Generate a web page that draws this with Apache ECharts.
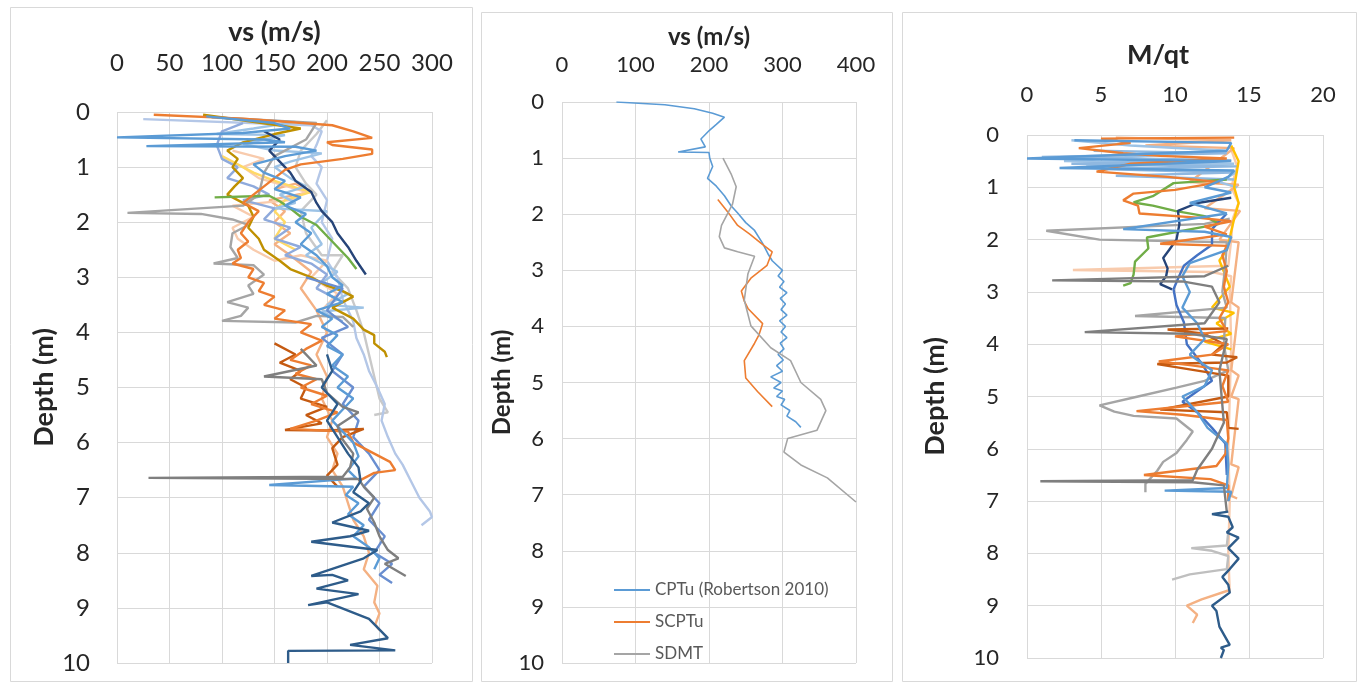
<!DOCTYPE html>
<html>
<head>
<meta charset="utf-8">
<title>vs and M/qt depth profiles</title>
<script src="https://cdn.jsdelivr.net/npm/echarts@6.0.0/dist/echarts.min.js"></script>
<style>
  html, body { margin: 0; padding: 0; background: #fff; }
  #chart { width: 1361px; height: 683px; }
</style>
</head>
<body>
<div id="chart"></div>
<script>
// axis ranges (min, max, step)
const depthRange = [0, 10, 1];
const vsRangeLeft = [0, 300, 50];
const vsRangeMid = [0, 400, 100];
const mqtRange = [0, 20, 5];

// ---- left panel: vs profiles, [vs (m/s), depth (m)] ----
const vsOrange = [[35,0.05],[120,0.12],[205,0.24],[225,0.35],[243,0.47],[200,0.55],[205,0.6],[243,0.68],[243,0.76],[215,0.85],[175,0.95],[160,1.05],[150,1.2],[140,1.35],[130,1.5],[120,1.65],[135,1.8],[125,2.0],[118,2.2],[125,2.35],[115,2.5],[118,2.65],[110,2.75],[130,2.85],[125,3.0],[140,3.1],[135,3.25],[150,3.35],[140,3.5],[160,3.6],[150,3.75],[185,3.85],[175,4.0],[195,4.15],[180,4.3],[165,4.5],[185,4.6],[170,4.75],[190,4.85],[175,5.0],[200,5.15],[185,5.3],[210,5.45],[190,5.6],[165,5.75],[220,5.8],[225,6.0],[245,6.2],[260,6.35],[265,6.5],[245,6.55],[230,6.7]];
const vsBlue = [[85,0.08],[150,0.2],[165,0.3],[120,0.38],[0,0.46],[140,0.5],[160,0.55],[28,0.62],[170,0.63],[190,0.7],[160,0.8],[130,0.95],[140,1.1],[160,1.25],[150,1.4],[175,1.55],[160,1.7],[180,1.85],[170,2.0],[185,2.2],[175,2.4],[190,2.6],[200,2.8],[205,3.0],[215,3.15],[200,3.3],[215,3.45],[190,3.6],[205,3.75],[195,3.9],[210,4.05],[200,4.25],[215,4.4],[205,4.6],[220,4.8],[210,5.0],[225,5.2],[215,5.4],[205,5.6],[215,5.8],[225,6.0],[230,6.25],[220,6.5],[228,6.65],[145,6.77],[225,6.8],[218,6.95],[230,7.1],[220,7.3],[235,7.5],[225,7.7],[240,7.9],[250,8.1],[245,8.3]];
const vsPaleBlue = [[25,0.13],[185,0.24],[195,0.35],[190,0.6],[185,0.8],[195,1.0],[190,1.3],[200,1.6],[195,2.0],[205,2.3],[200,2.7],[210,3.0],[215,3.4],[225,3.8],[228,4.1],[235,4.4],[240,4.7],[248,5.0],[255,5.3],[252,5.6],[258,5.9],[265,6.2],[272,6.4],[280,6.7],[288,7.0],[298,7.25],[300,7.35],[290,7.5]];
const vsGold = [[82,0.05],[175,0.3],[150,0.4],[120,0.55],[105,0.7],[115,0.85],[110,1.0],[120,1.2],[112,1.35],[105,1.5],[125,1.7],[130,1.9],[125,2.1],[135,2.3],[140,2.5],[155,2.7],[165,2.85],[185,3.0],[200,3.15],[215,3.25],[225,3.35],[215,3.45],[205,3.55],[225,3.75],[235,3.95],[245,4.05],[245,4.2],[255,4.35],[257,4.45]];
const vsGreen = [[93,1.55],[145,1.52],[155,1.62],[165,1.75],[175,1.9],[190,2.05],[200,2.25],[210,2.45],[220,2.65],[228,2.85]];
const vsNavy = [[140,0.35],[155,0.5],[145,0.7],[155,0.9],[165,1.1],[170,1.25],[185,1.45],[190,1.65],[195,1.8],[205,2.0],[210,2.2],[220,2.45],[228,2.7],[237,2.95]];
const vsGray = [[95,0.1],[190,0.2],[180,0.5],[150,0.8],[140,1.1],[135,1.5],[120,1.7],[10,1.83],[80,1.85],[110,1.95],[125,2.05],[110,2.2],[108,2.45],[115,2.65],[92,2.75],[130,2.78],[140,2.95],[125,3.15],[130,3.3],[105,3.45],[125,3.55],[118,3.7],[100,3.79],[170,3.82],[190,3.7],[215,3.72],[225,3.9]];
const vsDarkGray = [[175,4.3],[190,4.6],[140,4.8],[195,4.85],[200,5.1],[215,5.35],[230,5.45],[210,5.7],[215,5.95],[225,6.2],[222,6.45],[215,6.62],[30,6.64],[230,6.66],[235,6.8],[245,7.0],[238,7.2],[245,7.45],[250,7.7],[258,7.95],[268,8.1],[255,8.2],[275,8.42]];
const vsPeach = [[150,1.4],[170,1.3],[185,1.45],[145,1.6],[160,1.8],[150,2.0],[165,2.2],[150,2.4],[165,2.6],[185,2.9],[175,3.2],[190,3.6],[200,4.0],[190,4.4],[200,4.8],[195,5.2],[205,5.6],[200,5.9],[210,6.2],[205,6.5],[215,6.8],[220,7.1],[225,7.4],[235,7.7],[240,8.0],[235,8.3],[248,8.6],[245,8.9],[250,9.1],[246,9.3],[250,9.4]];
const vsDeepBlue = [[200,4.4],[205,4.7],[195,5.0],[210,5.3],[200,5.6],[210,5.9],[220,6.2],[230,6.45],[232,6.7],[225,6.9],[240,7.1],[232,7.25],[205,7.45],[240,7.6],[222,7.7],[185,7.8],[248,7.95],[235,8.1],[185,8.42],[205,8.4],[220,8.5],[190,8.65],[230,8.75],[182,8.95],[200,8.9],[240,9.2],[258,9.55],[222,9.67],[265,9.77],[163,9.78],[163,10]];
const vsMidBlue = [[180,3.0],[215,3.2],[200,3.6],[220,3.9],[195,4.1],[215,4.4],[205,4.7],[225,5.0],[215,5.3],[230,5.6],[225,5.9],[240,6.2],[250,6.5],[235,6.8],[250,7.1],[240,7.4],[255,7.7],[245,8.0],[262,8.2],[250,8.4],[262,8.55]];
const vsLightOrange = [[110,0.7],[140,0.85],[120,1.0],[135,1.2],[180,1.45],[165,1.6],[110,1.7],[130,1.9],[110,2.1],[115,2.3],[130,2.5],[150,2.7],[175,2.6],[200,2.7],[185,3.0],[210,3.3],[195,3.6]];
const vsLightGray = [[200,0.15],[190,0.4],[175,0.7],[170,1.0],[180,1.3],[190,1.5],[175,1.8],[180,2.2],[195,2.6],[215,2.6],[205,2.9],[220,3.2],[228,3.6],[235,4.0],[240,4.4],[245,4.8],[250,5.2],[258,5.45],[245,5.5]];
const vsBrown = [[150,4.2],[170,4.4],[155,4.55],[175,4.7],[165,4.85],[180,5.0],[175,5.2],[200,5.35],[180,5.5],[195,5.65],[160,5.77],[200,5.78],[235,5.75],[215,5.9],[205,6.1],[210,6.4],[200,6.6],[210,6.8]];
const vsYellow = [[100,0.8],[115,0.95],[130,1.1],[150,1.25],[175,1.4],[185,1.45],[160,1.6],[150,1.8],[160,2.0],[150,2.3],[170,2.5]];
const vsSky = [[90,0.1],[170,0.18],[130,0.3],[95,0.4],[160,0.42],[120,0.58],[150,0.7],[195,0.75],[165,0.9],[150,1.0],[165,1.2],[180,1.35],[155,1.5],[170,1.65],[150,1.75],[200,1.8],[185,2.1],[195,2.4],[180,2.6],[210,2.9],[195,3.1],[220,3.3],[200,3.5],[235,3.55],[195,3.62],[215,3.8]];
const vsSteel = [[120,0.2],[100,0.35],[95,0.6],[100,0.85],[115,1.0],[105,1.2],[130,1.35],[145,1.5],[120,1.6],[150,1.75],[140,1.95],[165,2.1],[150,2.3],[175,2.45],[160,2.6],[185,2.75],[200,2.95],[190,3.2],[210,3.4]];

// ---- middle panel: method comparison ----
const cptuName = 'CPTu (Robertson 2010)';
const cptuVs = [[74,0],[140,0.05],[180,0.12],[205,0.2],[221,0.27],[210,0.4],[201,0.5],[189,0.66],[195,0.8],[158,0.89],[200,0.9],[201,1.0],[205,1.15],[198,1.36],[210,1.5],[221,1.67],[230,1.85],[239,1.98],[250,2.15],[262,2.29],[273,2.52],[280,2.7],[286,2.83],[300,3.0],[294,3.1],[302,3.2],[296,3.3],[306,3.4],[297,3.5],[304,3.6],[298,3.7],[306,3.8],[296,3.9],[304,4.0],[298,4.1],[306,4.2],[297,4.3],[302,4.4],[294,4.5],[301,4.6],[292,4.7],[300,4.8],[284,4.9],[298,5.0],[288,5.1],[300,5.15],[292,5.25],[303,5.3],[298,5.4],[310,5.5],[306,5.6],[318,5.7],[325,5.8]];
const scptuVs = [[212,1.74],[225,1.95],[239,2.2],[255,2.35],[271,2.52],[286,2.67],[279,2.91],[257,3.14],[244,3.37],[248,3.55],[253,3.68],[273,3.95],[268,4.15],[262,4.3],[248,4.61],[250,4.92],[266,5.16],[286,5.43]];
const sdmtVs = [[219,1.0],[230,1.28],[237,1.51],[232,1.82],[217,2.2],[214,2.4],[221,2.6],[239,2.67],[262,2.75],[253,3.06],[248,3.53],[257,3.99],[284,4.38],[311,4.61],[325,5.0],[352,5.3],[359,5.5],[347,5.85],[307,6.0],[302,6.24],[325,6.47],[361,6.7],[400,7.13]];

// ---- right panel: M/qt profiles, [M/qt, depth (m)] ----
const mqtOrange = [[14,0.05],[5,0.07],[7,0.15],[3.5,0.25],[6.5,0.35],[9,0.4],[13.5,0.45],[7,0.55],[4.7,0.7],[9.5,0.8],[13,0.9],[10,1.05],[7.2,1.12],[6.5,1.25],[7.5,1.35],[7.6,1.5],[11.5,1.58],[13.8,1.65],[12,1.75],[13.5,1.9],[9,2.08],[13.5,2.12],[13.2,2.3],[13.5,2.6],[13.3,2.9],[13.6,3.2],[13,3.5],[13.5,3.75],[10,3.85],[13.6,4.0],[12.5,4.2],[8.9,4.33],[11,4.4],[13.6,4.5],[13.2,4.8],[13.6,5.1],[9.5,5.22],[7.4,5.28],[10.5,5.35],[13.5,5.45],[13.6,5.8],[13.4,6.1],[12.8,6.33],[7.9,6.5],[12.4,6.58],[13.6,6.7],[13.6,7]];
const mqtBlue = [[3.2,0.1],[13.8,0.15],[13.5,0.3],[0,0.45],[13.8,0.5],[2.2,0.63],[14,0.68],[13.6,0.8],[12,1.0],[13.8,1.1],[11,1.3],[13.5,1.5],[6.5,1.8],[12,1.85],[13.8,1.95],[13.5,2.2],[11,2.45],[10.5,2.7],[11,3.0],[10.5,3.3],[11.5,3.6],[12,3.9],[11,4.2],[12.5,4.5],[12,4.8],[10.5,5.0],[11.5,5.3],[12.2,5.6],[13.5,5.9],[13.6,6.3],[13.5,6.75],[9.3,6.8],[13.8,6.82],[13.6,7.0]];
const mqtGray = [[13.7,1.6],[12,1.7],[1.3,1.83],[4.9,2.0],[13.5,2.05],[13.4,2.5],[13.2,3.0],[13.5,3.3],[7.3,3.46],[13.4,3.5],[13.3,4.0],[13.6,4.5],[12,4.7],[10.1,4.83],[7.5,5.0],[4.9,5.17],[5.9,5.29],[7.2,5.37],[10.1,5.42],[11.2,5.67],[10.8,5.83],[10.1,6.08],[9.2,6.25],[8.8,6.42],[8.0,6.67],[8.0,6.83]];
const mqtDarkGray = [[13.6,2.5],[12,2.7],[1.7,2.78],[10.5,2.8],[12.5,2.9],[13,3.2],[12,3.6],[3.9,3.77],[11,3.8],[13.5,3.9],[13,4.5],[13.3,5.5],[12.5,6.0],[11.5,6.4],[11.2,6.6],[0.9,6.62],[11.2,6.64],[13.3,6.7],[13.5,7.2]];
const mqtLightGray = [[13.6,7.6],[13.5,7.85],[11.1,7.9],[12.5,7.95],[13.6,8.05],[13.5,8.3],[11,8.4],[9.8,8.5]];
const mqtGreen = [[13.5,0.85],[9.9,0.92],[8.5,1.17],[7.2,1.29],[8.5,1.35],[10,1.45],[12,1.55],[13,1.7],[8.1,1.96],[8.2,2.17],[7.3,2.42],[7.2,2.67],[7.0,2.83],[6.5,2.88]];
const mqtNavy = [[13.8,1.2],[11.5,1.3],[10.2,1.45],[10.3,1.7],[10.1,2.0],[9.6,2.2],[9.2,2.35],[9.5,2.55],[9.4,2.7],[9.0,2.85],[9.8,2.95]];
const mqtMidBlue = [[13.5,1.5],[12.5,1.8],[12.5,2.1],[11.5,2.3],[10.6,2.5],[10.2,2.75],[9.9,2.95],[10.1,3.25],[10.6,3.58],[10.8,4.0],[11.7,4.33],[12.1,4.5],[12.5,4.7],[11.5,4.9],[10.5,5.1],[11.5,5.3],[12.5,5.6],[13.4,5.9],[13.5,6.5]];
const mqtPeach = [[13.7,0.2],[14.2,0.6],[13.8,1.0],[14.3,1.3],[13.9,1.6],[13.8,2.0],[13.6,2.5],[3.1,2.58],[12.5,2.62],[13.8,2.7],[13.7,3.0],[13.8,4.0],[13.7,5.0],[13.6,6.0],[13.7,7.0],[13.6,8.0],[13.7,8.75]];
const mqtGold = [[13.8,0.2],[14.3,0.5],[14.0,1.0],[14.3,1.3],[14.0,1.6],[13.5,2.2],[13.0,2.4],[13.7,2.9],[12.5,3.3],[14,3.4],[12.8,3.6],[13.8,3.8],[12,3.95],[13.8,4.1]];
const mqtDeepBlue = [[13.6,7.2],[12.5,7.25],[13.6,7.3],[13.9,7.5],[13.5,7.6],[14.3,7.7],[13.6,7.9],[14.3,8.1],[13.7,8.3],[13.2,8.45],[13.6,8.6],[13.7,8.75],[12.5,9.0],[12.8,9.1],[13.0,9.4],[13.4,9.6],[13.7,9.75],[13.1,9.8],[13.3,9.85],[13.1,10]];
const mqtLightOrange = [[13.7,8.7],[11.8,8.88],[10.8,9.0],[11.5,9.17],[11.2,9.33]];
const mqtBrown = [[13.6,3.7],[9.5,3.72],[12,3.8],[13.3,4.0],[12.5,4.2],[14.2,4.25],[13.5,4.35],[8.8,4.38],[13.6,4.6],[13.6,5.0],[9,5.25],[13.5,5.3],[13.6,5.6],[14.3,5.62]];
const mqtPaleBlue = [[3,0.1],[7,0.2],[13.5,0.3],[2.5,0.5],[14,0.55],[4,0.6],[14.2,0.7],[13,0.9],[14.2,1.0]];
const mqtSky = [[4.5,0.3],[13.5,0.35],[1,0.42],[13.8,0.48],[3,0.55],[14.2,0.6],[5,0.65],[13.8,0.72],[6,0.78],[14,0.85]];
const mqtTan = [[6,0.05],[13.8,0.1],[8,0.2],[14,0.25],[11,0.9],[14.3,0.95],[12,1.4],[14.4,1.45],[13,2.0],[14.3,2.05],[13.8,3.2],[14.3,3.3],[13.8,4.5],[14.3,4.6],[13.8,5.0],[14.3,5.05],[13.8,6.3],[14.3,6.35],[13.8,6.9],[14.2,6.95]];

const leftSeries = [
  ['vsLightGray', vsLightGray, '#C9C9C9'],
  ['vsPaleBlue', vsPaleBlue, '#B4C7E7'],
  ['vsPeach', vsPeach, '#F4B183'],
  ['vsLightOrange', vsLightOrange, '#F8CBAD'],
  ['vsYellow', vsYellow, '#FFD966'],
  ['vsSky', vsSky, '#9DC3E6'],
  ['vsSteel', vsSteel, '#8FAADC'],
  ['vsGray', vsGray, '#A5A5A5'],
  ['vsGold', vsGold, '#BF9000'],
  ['vsGreen', vsGreen, '#70AD47'],
  ['vsNavy', vsNavy, '#264478'],
  ['vsMidBlue', vsMidBlue, '#698ED0'],
  ['vsBrown', vsBrown, '#C55A11'],
  ['vsOrange', vsOrange, '#ED7D31'],
  ['vsBlue', vsBlue, '#5B9BD5'],
  ['vsDarkGray', vsDarkGray, '#7F7F7F'],
  ['vsDeepBlue', vsDeepBlue, '#2E5C8A'],
];

const midSeries = [
  [cptuName, cptuVs, '#5B9BD5'],
  ['SCPTu', scptuVs, '#ED7D31'],
  ['SDMT', sdmtVs, '#A5A5A5'],
];

const rightSeries = [
  ['mqtPeach', mqtPeach, '#F8CBAD'],
  ['mqtTan', mqtTan, '#F4B183'],
  ['mqtPaleBlue', mqtPaleBlue, '#9DC3E6'],
  ['mqtSky', mqtSky, '#8FB8E0'],
  ['mqtGold', mqtGold, '#FFC000'],
  ['mqtLightGray', mqtLightGray, '#BFBFBF'],
  ['mqtGray', mqtGray, '#A5A5A5'],
  ['mqtGreen', mqtGreen, '#70AD47'],
  ['mqtMidBlue', mqtMidBlue, '#4472C4'],
  ['mqtNavy', mqtNavy, '#264478'],
  ['mqtBrown', mqtBrown, '#C55A11'],
  ['mqtOrange', mqtOrange, '#ED7D31'],
  ['mqtBlue', mqtBlue, '#5B9BD5'],
  ['mqtDarkGray', mqtDarkGray, '#7F7F7F'],
  ['mqtLightOrange', mqtLightOrange, '#F4B183'],
  ['mqtDeepBlue', mqtDeepBlue, '#2E5C8A'],
];

const font = 'Lato, "Open Sans", sans-serif';
const gridColor = '#D9D9D9';
const textColor = '#262626';

function xAxisFor(gridIndex, range, name, opts) {
  return {
    gridIndex,
    type: 'value',
    position: 'top',
    min: range[0],
    max: range[1],
    interval: range[2],
    name,
    nameLocation: 'middle',
    nameGap: opts.nameGap,
    nameTextStyle: {
      fontFamily: font, fontWeight: 'bold', fontSize: opts.nameSize, color: textColor,
      padding: opts.namePadding || 0,
    },
    axisLine: { show: false },
    axisTick: { show: false },
    axisLabel: { fontFamily: font, fontSize: opts.labelSize, color: textColor, margin: opts.labelMargin },
    splitLine: { show: true, lineStyle: { color: gridColor, width: 1 } },
  };
}

function yAxisFor(gridIndex, opts) {
  return {
    gridIndex,
    type: 'value',
    inverse: true,
    min: depthRange[0],
    max: depthRange[1],
    interval: depthRange[2],
    name: 'Depth (m)',
    nameLocation: 'middle',
    nameGap: opts.nameGap,
    nameRotate: 90,
    nameTextStyle: { fontFamily: font, fontWeight: 'bold', fontSize: opts.nameSize, color: textColor },
    axisLine: { show: false },
    axisTick: { show: false },
    axisLabel: { fontFamily: font, fontSize: opts.labelSize, color: textColor, margin: opts.labelMargin },
    splitLine: { show: true, lineStyle: { color: gridColor, width: 1 } },
  };
}

function toLines(list, axisIndex, width) {
  return list.map(([name, data, color]) => ({
    name,
    type: 'line',
    xAxisIndex: axisIndex,
    yAxisIndex: axisIndex,
    data,
    showSymbol: false,
    symbol: 'none',
    lineStyle: { color, width },
    itemStyle: { color },
    emphasis: { disabled: true },
    z: 3,
  }));
}

const chart = echarts.init(document.getElementById('chart'));

chart.setOption({
  animation: false,
  backgroundColor: '#fff',
  grid: [
    { left: 117, top: 112, width: 315, height: 551 },
    { left: 562, top: 102, width: 294, height: 561 },
    { left: 1027, top: 135, width: 296, height: 523 },
  ],
  xAxis: [
    xAxisFor(0, vsRangeLeft, 'vs (m/s)', { nameGap: 62, nameSize: 27, labelSize: 24, labelMargin: 37 }),
    xAxisFor(1, vsRangeMid, 'vs (m/s)', { nameGap: 53, nameSize: 24, labelSize: 22, labelMargin: 26 }),
    xAxisFor(2, mqtRange, 'M/qt', { nameGap: 66, nameSize: 27, labelSize: 22, labelMargin: 29, namePadding: [0, 34, 0, 0] }),
  ],
  yAxis: [
    yAxisFor(0, { nameGap: 58, nameSize: 27, labelSize: 24, labelMargin: 27 }),
    yAxisFor(1, { nameGap: 47, nameSize: 24, labelSize: 22, labelMargin: 18 }),
    yAxisFor(2, { nameGap: 78, nameSize: 27, labelSize: 22, labelMargin: 28 }),
  ],
  legend: {
    data: midSeries.map((s) => s[0]),
    orient: 'vertical',
    left: 609,
    top: 575,
    itemWidth: 36,
    itemHeight: 2,
    itemGap: 12,
    icon: 'rect',
    selectedMode: false,
    textStyle: { fontFamily: font, fontSize: 17, color: '#595959', lineHeight: 20 },
  },
  graphic: [
    { type: 'rect', shape: { x: 10.5, y: 7.5, width: 462, height: 674 }, style: { fill: 'none', stroke: gridColor, lineWidth: 1 }, silent: true },
    { type: 'rect', shape: { x: 481.5, y: 12.5, width: 411, height: 669 }, style: { fill: 'none', stroke: gridColor, lineWidth: 1 }, silent: true },
    { type: 'rect', shape: { x: 902.5, y: 12.5, width: 454, height: 669 }, style: { fill: 'none', stroke: gridColor, lineWidth: 1 }, silent: true },
  ],
  series: [
    ...toLines(leftSeries, 0, 2.4),
    ...toLines(midSeries, 1, 1.6),
    ...toLines(rightSeries, 2, 2.4),
  ],
});
</script>
</body>
</html>
